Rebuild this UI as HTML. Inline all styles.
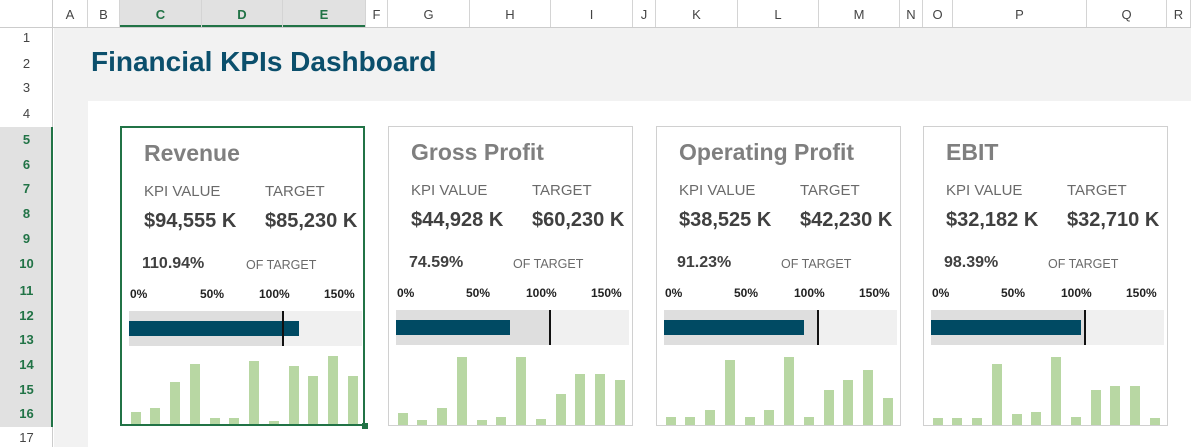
<!DOCTYPE html>
<html><head><meta charset="utf-8"><style>
body{margin:0;width:1191px;height:447px;overflow:hidden;background:#fff;font-family:"Liberation Sans",sans-serif;position:relative}
.a{position:absolute}
.ch{position:absolute;top:0;height:27px;line-height:29px;text-align:center;font-size:13px;color:#444;border-right:1px solid #d4d4d4;box-sizing:border-box}
.rh{position:absolute;left:0;width:53px;text-align:center;font-size:13px;color:#444}
.card{position:absolute;top:126px;width:245px;height:300px;border:1px solid #d0d0d0;background:#fff;box-sizing:border-box}
.t{position:absolute;left:22px;top:12px;font-size:23px;font-weight:bold;color:#7f7f7f}
.l{position:absolute;top:55px;font-size:15px;color:#6a6a6a}
.v{position:absolute;top:82px;font-size:20px;font-weight:bold;color:#404040}
.p{position:absolute;left:20px;top:127px;font-size:16px;font-weight:bold;color:#404040}
.o{position:absolute;left:124px;top:130px;font-size:12.5px;color:#6a6a6a}
.k{position:absolute;top:159px;font-size:12px;font-weight:bold;color:#222}
.bg{position:absolute;left:7px;top:183px;width:233px;height:35px;background:#f0f0f0}
.bg2{position:absolute;left:7px;top:183px;width:153px;height:35px;background:#dedede}
.bl{position:absolute;left:7px;top:193px;height:15px;background:#004a63}
.mk{position:absolute;left:160px;top:183px;width:2px;height:35px;background:#111}
svg{position:absolute;left:0;top:0}
</style></head><body>
<div class="a" style="left:0;top:0;width:1191px;height:27px;background:#fff;border-bottom:1px solid #ccc"></div>
<div class="a" style="left:0;top:0;width:53px;height:447px;border-right:1px solid #ccc;box-sizing:border-box"></div>
<div class="a" style="left:120px;top:0;width:246px;height:27px;background:#e1e1e1;border-bottom:2px solid #217346;box-sizing:border-box"></div>
<div class="ch" style="left:53px;width:35px">A</div>
<div class="ch" style="left:88px;width:32px">B</div>
<div class="ch" style="left:120px;width:82px;color:#217346;font-weight:bold">C</div>
<div class="ch" style="left:202px;width:81px;color:#217346;font-weight:bold">D</div>
<div class="ch" style="left:283px;width:83px;color:#217346;font-weight:bold">E</div>
<div class="ch" style="left:366px;width:22px">F</div>
<div class="ch" style="left:388px;width:82px">G</div>
<div class="ch" style="left:470px;width:81px">H</div>
<div class="ch" style="left:551px;width:82px">I</div>
<div class="ch" style="left:633px;width:23px">J</div>
<div class="ch" style="left:656px;width:82px">K</div>
<div class="ch" style="left:738px;width:81px">L</div>
<div class="ch" style="left:819px;width:81px">M</div>
<div class="ch" style="left:900px;width:23px">N</div>
<div class="ch" style="left:923px;width:30px">O</div>
<div class="ch" style="left:953px;width:134px">P</div>
<div class="ch" style="left:1087px;width:80px">Q</div>
<div class="ch" style="left:1167px;width:24px">R</div>
<div class="a" style="left:0;top:127px;width:53px;height:300px;background:#e1e1e1"></div>
<div class="a" style="left:51px;top:127px;width:2px;height:300px;background:#217346"></div>
<div class="rh" style="top:30px">1</div><div class="rh" style="top:56px">2</div><div class="rh" style="top:80px">3</div><div class="rh" style="top:106px">4</div>
<div class="rh" style="top:132px;color:#217346;font-weight:bold">5</div><div class="rh" style="top:157px;color:#217346;font-weight:bold">6</div><div class="rh" style="top:181px;color:#217346;font-weight:bold">7</div><div class="rh" style="top:206px;color:#217346;font-weight:bold">8</div><div class="rh" style="top:231px;color:#217346;font-weight:bold">9</div><div class="rh" style="top:256px;color:#217346;font-weight:bold">10</div><div class="rh" style="top:283px;color:#217346;font-weight:bold">11</div><div class="rh" style="top:308px;color:#217346;font-weight:bold">12</div><div class="rh" style="top:332px;color:#217346;font-weight:bold">13</div><div class="rh" style="top:357px;color:#217346;font-weight:bold">14</div><div class="rh" style="top:382px;color:#217346;font-weight:bold">15</div><div class="rh" style="top:406px;color:#217346;font-weight:bold">16</div><div class="rh" style="top:430px">17</div>
<div class="a" style="left:54px;top:28px;width:1137px;height:419px;background:#f2f2f2"></div>
<div class="a" style="left:88px;top:101px;width:1103px;height:346px;background:#fff"></div>
<div class="a" style="left:91px;top:46px;font-size:28px;font-weight:bold;color:#0b4f6c">Financial KPIs Dashboard</div>

<div class="card" style="left:120px;border:2px solid #217346">
<div class="t">Revenue</div><div class="l" style="left:22px">KPI VALUE</div><div class="l" style="left:143px">TARGET</div>
<div class="v" style="left:22px">$94,555 K</div><div class="v" style="left:143px">$85,230 K</div>
<div class="p">110.94%</div><div class="o">OF TARGET</div>
<div class="k" style="left:8px">0%</div><div class="k" style="left:78px">50%</div><div class="k" style="left:137px">100%</div><div class="k" style="left:202px">150%</div>
<div class="bg"></div><div class="bg2"></div><div class="bl" style="width:170px"></div><div class="mk"></div>
<svg width="245" height="300" fill="#b8d7a3"><rect x="9" y="284" width="10" height="12"/><rect x="28" y="280" width="10" height="16"/><rect x="48" y="254" width="10" height="42"/><rect x="68" y="236" width="10" height="60"/><rect x="88" y="290" width="10" height="6"/><rect x="107" y="290" width="10" height="6"/><rect x="127" y="233" width="10" height="63"/><rect x="147" y="293" width="10" height="3"/><rect x="167" y="238" width="10" height="58"/><rect x="186" y="248" width="10" height="48"/><rect x="206" y="228" width="10" height="68"/><rect x="226" y="248" width="10" height="48"/></svg>
</div>
<div class="a" style="left:362px;top:423px;width:6px;height:6px;background:#217346"></div>

<div class="card" style="left:388px">
<div class="t">Gross Profit</div><div class="l" style="left:22px">KPI VALUE</div><div class="l" style="left:143px">TARGET</div>
<div class="v" style="left:22px">$44,928 K</div><div class="v" style="left:143px">$60,230 K</div>
<div class="p">74.59%</div><div class="o">OF TARGET</div>
<div class="k" style="left:8px">0%</div><div class="k" style="left:77px">50%</div><div class="k" style="left:137px">100%</div><div class="k" style="left:202px">150%</div>
<div class="bg"></div><div class="bg2"></div><div class="bl" style="width:114px"></div><div class="mk"></div>
<svg width="245" height="300" fill="#b8d7a3"><rect x="9" y="286" width="10" height="12"/><rect x="28" y="293" width="10" height="5"/><rect x="48" y="281" width="10" height="17"/><rect x="68" y="230" width="10" height="68"/><rect x="88" y="293" width="10" height="5"/><rect x="107" y="290" width="10" height="8"/><rect x="127" y="230" width="10" height="68"/><rect x="147" y="292" width="10" height="6"/><rect x="167" y="267" width="10" height="31"/><rect x="186" y="247" width="10" height="51"/><rect x="206" y="247" width="10" height="51"/><rect x="226" y="253" width="10" height="45"/></svg>
</div>

<div class="card" style="left:656px">
<div class="t">Operating Profit</div><div class="l" style="left:22px">KPI VALUE</div><div class="l" style="left:143px">TARGET</div>
<div class="v" style="left:22px">$38,525 K</div><div class="v" style="left:143px">$42,230 K</div>
<div class="p">91.23%</div><div class="o">OF TARGET</div>
<div class="k" style="left:8px">0%</div><div class="k" style="left:77px">50%</div><div class="k" style="left:137px">100%</div><div class="k" style="left:202px">150%</div>
<div class="bg"></div><div class="bg2"></div><div class="bl" style="width:140px"></div><div class="mk"></div>
<svg width="245" height="300" fill="#b8d7a3"><rect x="9" y="290" width="10" height="8"/><rect x="28" y="290" width="10" height="8"/><rect x="48" y="283" width="10" height="15"/><rect x="68" y="233" width="10" height="65"/><rect x="88" y="290" width="10" height="8"/><rect x="107" y="283" width="10" height="15"/><rect x="127" y="230" width="10" height="68"/><rect x="147" y="290" width="10" height="8"/><rect x="167" y="263" width="10" height="35"/><rect x="186" y="253" width="10" height="45"/><rect x="206" y="243" width="10" height="55"/><rect x="226" y="271" width="10" height="27"/></svg>
</div>

<div class="card" style="left:923px">
<div class="t">EBIT</div><div class="l" style="left:22px">KPI VALUE</div><div class="l" style="left:143px">TARGET</div>
<div class="v" style="left:22px">$32,182 K</div><div class="v" style="left:143px">$32,710 K</div>
<div class="p">98.39%</div><div class="o">OF TARGET</div>
<div class="k" style="left:8px">0%</div><div class="k" style="left:77px">50%</div><div class="k" style="left:137px">100%</div><div class="k" style="left:202px">150%</div>
<div class="bg"></div><div class="bg2"></div><div class="bl" style="width:150px"></div><div class="mk"></div>
<svg width="245" height="300" fill="#b8d7a3"><rect x="9" y="291" width="10" height="7"/><rect x="28" y="291" width="10" height="7"/><rect x="48" y="291" width="10" height="7"/><rect x="68" y="237" width="10" height="61"/><rect x="88" y="287" width="10" height="11"/><rect x="107" y="285" width="10" height="13"/><rect x="127" y="230" width="10" height="68"/><rect x="147" y="290" width="10" height="8"/><rect x="167" y="263" width="10" height="35"/><rect x="186" y="259" width="10" height="39"/><rect x="206" y="259" width="10" height="39"/><rect x="226" y="291" width="10" height="7"/></svg>
</div>
</body></html>
